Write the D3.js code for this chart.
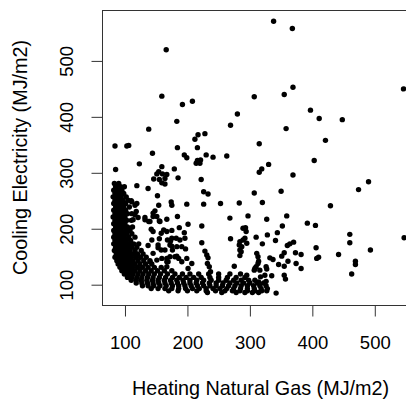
<!DOCTYPE html>
<html>
<head>
<meta charset="utf-8">
<script src="https://cdn.jsdelivr.net/npm/d3@7"></script>
<style>
  body { margin: 0; background: #fff; }
  svg { display: block; }
  text { font-family: "Liberation Sans", Arial, sans-serif; fill: #000; }
</style>
</head>
<body>
<div id="chart"></div>
<script>
const xTicks = [100, 200, 300, 400, 500];
const yTicks = [100, 200, 300, 400, 500];
const xLabel = 'Heating Natural Gas (MJ/m2)';
const yLabel = 'Cooling Electricity (MJ/m2)';

// dense L-shaped cloud, [gas, cooling]
const bandPoints = [
  [83,281],[90,281],[85,275],[93,275],[99,275],[82,269],[88,269],[95,269],
  [84,263],[91,263],[98,263],[81,257],[87,257],[94,257],[102,257],
  [84,251],[90,251],[97,251],[105,251],[82,245],[88,245],[95,245],[101,245],
  [85,239],[91,239],[98,239],[107,239],[82,233],[88,233],[94,233],[101,233],
  [84,227],[90,227],[97,227],[104,227],[111,227],[81,221],[87,221],[93,221],[100,221],
  [84,215],[90,215],[96,215],[103,215],[110,215],[82,209],[88,209],[94,209],[100,209],
  [85,203],[91,203],[97,203],[104,203],[112,203],[82,197],[88,197],[94,197],[101,197],[108,197],
  [84,191],[90,191],[96,191],[103,191],[111,191],[82,185],[87,185],[93,185],[99,185],[106,185],[116,185],
  [84,179],[90,179],[96,179],[102,179],[109,179],
  [82,173],[88,173],[94,173],[100,173],[107,173],[114,173],[122,173],
  [85,167],[91,167],[97,167],[104,167],[111,167],[119,167],
  [83,161],[89,161],[95,161],[101,161],[108,161],[116,161],[126,161],
  [86,155],[92,155],[98,155],[105,155],[112,155],[120,155],[129,155],
  [84,149],[90,149],[96,149],[102,149],[109,149],[117,149],[125,149],[134,149],
  [87,143],[93,143],[99,143],[106,143],[113,143],[121,143],[130,143],[140,143],
  [89,137],[95,137],[102,137],[109,137],[116,137],[124,137],[133,137],[143,137],
  [92,131],[98,131],[105,131],[112,131],[120,131],[128,131],[137,131],[147,131],[158,131],
  [95,125],[102,125],[109,125],[116,125],[124,125],[133,125],[142,125],[152,125],[163,125],[175,125],
  [99,119],[106,119],[113,119],[121,119],[129,119],[138,119],[147,119],[157,119],[168,119],
  [180,119],[192,119],[204,119],[218,119],[234,119],[250,119],[268,119],[285,119],
  [104,113],[111,113],[119,113],[127,113],[136,113],[145,113],[155,113],[165,113],[176,113],
  [187,113],[198,113],[210,113],[222,113],[236,113],[250,113],[264,113],[278,113],[292,113],
  [110,108],[118,108],[126,108],[135,108],[144,108],[153,108],[163,108],[173,108],[183,108],[193,108],
  [204,108],[215,108],[226,108],[238,108],[250,108],[262,108],[274,108],[286,108],[298,108],[308,108],
  [118,103],[127,103],[136,103],[145,103],[154,103],[164,103],[174,103],[184,103],[194,103],[204,103],
  [214,103],[224,103],[235,103],[246,103],[257,103],[268,103],[279,103],[290,103],[300,103],[312,103],[322,103],
  [128,98],[137,98],[146,98],[156,98],[166,98],[176,98],[186,98],[196,98],[206,98],[216,98],[226,98],
  [236,98],[246,98],[256,98],[266,98],[276,98],[286,98],[296,98],[306,98],[316,98],[326,98],
  [142,93],[153,93],[164,93],[175,93],[186,93],[197,93],[208,93],[219,93],[230,93],[241,93],
  [252,93],[263,93],[274,93],[285,93],[296,93],[307,93],[318,93],[328,93],
  [170,89],[185,89],[200,89],[215,89],[230,89],[245,89],[260,89],[272,89],[284,89],[296,89],[308,89],[319,89],[327,89],
  [232,86],[255,86],[278,86],[292,86],[304,86],[314,86]
];

// scattered points above and around the cloud
const midPoints = [
  [144,335],[195,332],[199,327],[230,332],[241,328],[263,330],[216,322],[220,317],[214,317],[221,323],
  [123,316],[85,306],[159,311],[154,302],[151,298],[160,298],[179,307],[146,289],[155,288],[159,282],
  [185,291],[222,288],[119,277],[137,272],[226,266],[233,262],[152,259],[110,250],[119,245],[174,248],
  [175,242],[154,242],[199,244],[226,244],[253,245],[283,246],[148,232],[145,228],[151,222],[116,225],
  [121,220],[132,220],[138,213],[155,214],[184,222],[268,219],[297,223],[142,199],[145,195],[162,198],
  [175,197],[187,202],[158,192],[223,205],[195,193],[175,183],[168,180],[173,178],[182,183],[143,180],
  [137,170],[155,182],[153,166],[158,162],[223,175],[269,182],[283,171],[284,162],[284,152],[289,180],
  [191,168],[197,164],[183,168],[175,169],[228,160],[231,153],[233,148],[199,147],[183,151],[167,147],
  [151,144],[275,133],[235,132],[237,123],[167,297],[164,290],[164,280],[201,208],
  [172,171],[176,162],[180,150],[186,147],[191,141],[172,150],[167,141],[167,132],[188,180],[196,183],
  [207,138],[201,129],[232,138],[284,177],[287,168],[286,159],[289,201],[292,183],[295,174],[328,189],
  [311,156],[313,138],[308,129],[316,126],[324,117],[295,117],[111,248],[116,242],[118,231],
  [113,216],[132,216],[140,213],[145,222],[156,213],[167,217],[167,195],[153,171],[164,162],[145,156],
  [159,147],[169,141],[140,141]
];

const outerPoints = [
  [166,520],[159,437],[192,422],[208,428],[280,405],[183,392],[269,385],[138,378],[228,370],[217,368],
  [212,360],[84,348],[103,348],[106,349],[184,345],[216,345],[338,571],[368,558],[369,453],[355,440],
  [307,436],[546,450],[397,412],[411,397],[448,395],[358,379],[315,352],[421,358],[403,322],[330,315],
  [319,307],[315,301],[369,296],[490,284],[474,270],[350,267],[307,264],[320,247],[429,241],[359,223],
  [327,217],[392,210],[405,206],[293,202],[294,195],[352,205],[344,193],[341,179],[310,185],[320,173],
  [460,190],[460,175],[547,184],[493,162],[370,176],[364,173],[360,170],[406,166],[410,149],[407,147],
  [442,154],[469,142],[469,136],[463,119],[373,157],[382,154],[351,151],[355,157],[332,148],[337,145],
  [361,142],[346,136],[355,133],[374,138],[382,129],[313,150],[314,142],[310,132],[307,126],[326,132],
  [327,128],[335,116],[317,114],[314,105],[326,106],[355,117],[357,110],[342,85]
];

const width = 406;
const height = 399;
const margin = { top: 10, right: -13, bottom: 94, left: 102 };
const plotW = width - margin.left - margin.right;
const plotH = height - margin.top - margin.bottom;

const svg = d3.select('#chart').append('svg').attr('width', width).attr('height', height);
const g = svg.append('g').attr('transform', `translate(${margin.left},${margin.top})`);

const x = d3.scaleLinear().domain([63.2, 570.8]).range([0, plotW]);
const y = d3.scaleLinear().domain([63.7, 591]).range([plotH, 0]);

const allPoints = [...bandPoints, ...midPoints, ...outerPoints];

g.selectAll('circle.pt')
  .data(allPoints)
  .enter()
  .append('circle')
  .attr('class', 'pt')
  .attr('cx', d => x(d[0]))
  .attr('cy', d => y(d[1]))
  .attr('r', 2.7)
  .attr('fill', '#000');

// box
g.append('rect')
  .attr('x', 0.5)
  .attr('y', 0.5)
  .attr('width', plotW)
  .attr('height', plotH)
  .attr('fill', 'none')
  .attr('stroke', '#333')
  .attr('stroke-width', 1);

const xAxis = g.append('g')
  .attr('transform', `translate(0,${plotH + 0.5})`)
  .call(d3.axisBottom(x).tickValues(xTicks).tickSize(11).tickFormat(d3.format('d')));
xAxis.select('.domain').remove();
xAxis.selectAll('line').attr('stroke', '#333');
xAxis.selectAll('text')
  .attr('y', 43)
  .attr('dy', 0)
  .style('font-size', '18.5px')
  .style('font-family', '"Liberation Sans", Arial, sans-serif')
  .attr('fill', '#000');

const yAxis = g.append('g')
  .attr('transform', 'translate(0.5,0)')
  .call(d3.axisLeft(y).tickValues(yTicks).tickSize(11).tickFormat(d3.format('d')));
yAxis.select('.domain').remove();
yAxis.selectAll('line').attr('stroke', '#333');
yAxis.selectAll('text')
  .attr('x', 0)
  .attr('dy', 0)
  .attr('text-anchor', 'middle')
  .attr('transform', 'translate(-30,0) rotate(-90)')
  .style('font-size', '18.5px')
  .style('font-family', '"Liberation Sans", Arial, sans-serif')
  .attr('fill', '#000');

svg.append('text')
  .attr('x', margin.left + plotW / 2)
  .attr('y', 395)
  .attr('text-anchor', 'middle')
  .style('font-size', '19.8px')
  .text(xLabel);

svg.append('text')
  .attr('transform', `translate(27,${margin.top + plotH / 2}) rotate(-90)`)
  .attr('text-anchor', 'middle')
  .style('font-size', '19.8px')
  .text(yLabel);
</script>
</body>
</html>
